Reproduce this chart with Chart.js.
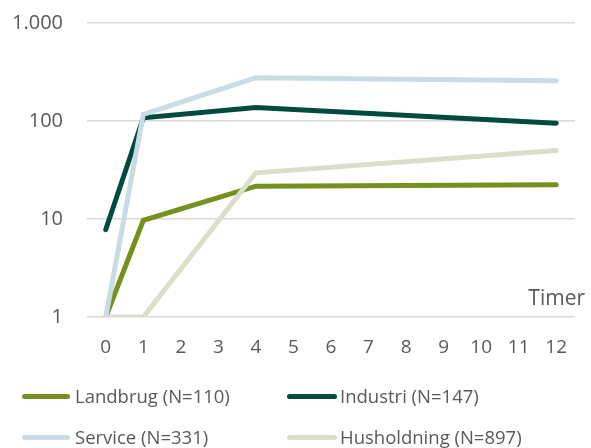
<!DOCTYPE html>
<html>
<head>
<meta charset="utf-8">
<script src="https://cdn.jsdelivr.net/npm/chart.js@4/dist/chart.umd.min.js"></script>
<style>
  html, body { margin: 0; padding: 0; background: #fff; }
  #wrap { position: relative; width: 591px; height: 448px; overflow: hidden; }
  #c { position: absolute; left: 0; top: -13px; }
  .leg { position: absolute; font-family: "Open Sans", sans-serif; font-size: 18.5px; color: #595959; white-space: nowrap; }
  .leg .sw { position: absolute; height: 5px; border-radius: 3px; }
  .leg .tx { position: absolute; line-height: 24px; }
</style>
</head>
<body>
<div id="wrap">
  <canvas id="c" width="591" height="461"></canvas>
</div>
<script>
// Hours on the x axis; values are only known at some of them
const hours = ['0','1','2','3','4','5','6','7','8','9','10','11','12'];
const seriesNames = ['Landbrug (N=110)', 'Industri (N=147)', 'Service (N=331)', 'Husholdning (N=897)'];
const seriesColors = ['#76901f', '#004b3b', '#c7dce5', '#dadecb'];

const landbrug    = [1,   9.7, null, null, 21.6, null, null, null, null, null, null, null, 22.3];
const industri    = [7.8, 108, null, null, 137,  null, null, null, null, null, null, null, 95];
const service     = [1,   117, null, null, 277,  null, null, null, null, null, null, null, 258];
const husholdning = [1,   1,   null, null, 29.6, null, null, null, null, null, null, null, 50];

const yTicks = [1, 10, 100, 1000];
const xAxisTitle = 'Timer';

const allSeries = [landbrug, industri, service, husholdning];
const drawOrder = [4, 3, 2, 1];

function fmtDa(v) {
  return String(v).replace(/\B(?=(\d{3})+(?!\d))/g, '.');
}

const FONT = '"Open Sans", sans-serif';
const TEXT = '#595959';

// "Timer" sits just above the bottom gridline, right of the last hour
const axisTitlePlugin = {
  id: 'axisTitle',
  afterDraw(chart) {
    const ctx = chart.ctx;
    ctx.save();
    ctx.font = '21px ' + FONT;
    ctx.fillStyle = TEXT;
    ctx.textAlign = 'right';
    ctx.textBaseline = 'middle';
    ctx.fillText(xAxisTitle, 585, chart.chartArea.bottom - 18);
    ctx.restore();
  }
};

new Chart(document.getElementById('c'), {
  type: 'line',
  data: {
    labels: hours,
    datasets: allSeries.map((d, i) => ({
      label: seriesNames[i],
      data: d,
      borderColor: seriesColors[i],
      backgroundColor: seriesColors[i],
      borderWidth: 5,
      borderCapStyle: 'round',
      borderJoinStyle: 'miter',
      pointRadius: 0,
      tension: 0,
      spanGaps: true,
      order: drawOrder[i]
    }))
  },
  options: {
    responsive: false,
    animation: false,
    layout: { padding: { top: 0, right: 16, bottom: 0, left: 0 } },
    plugins: { legend: { display: false }, tooltip: { enabled: false } },
    scales: {
      x: {
        type: 'category',
        offset: true,
        grid: { display: false, drawTicks: false },
        border: { display: false },
        ticks: { color: TEXT, font: { family: FONT, size: 19 }, padding: 19, maxRotation: 0, autoSkip: false },
        afterFit(s) { s.height = 131; }
      },
      y: {
        type: 'logarithmic',
        min: 1,
        max: 1000,
        afterBuildTicks(s) { s.ticks = yTicks.map(v => ({ value: v })); },
        grid: { color: '#d9d9d9', lineWidth: 1.5, drawTicks: false },
        border: { display: false },
        ticks: { color: TEXT, font: { family: FONT, size: 20 }, padding: 24, callback: v => fmtDa(v) },
        afterFit(s) { s.width = 87; }
      }
    }
  },
  plugins: [axisTitlePlugin]
});

// Legend in two columns under the plot
const wrap = document.getElementById('wrap');
const legPos = [
  { line: 22, w: 48, text: 75, y: 396 },
  { line: 287, w: 50, text: 340, y: 396 },
  { line: 22, w: 48, text: 75, y: 437 },
  { line: 287, w: 50, text: 340, y: 437 }
];
seriesNames.forEach((name, i) => {
  const p = legPos[i];
  const item = document.createElement('div');
  item.className = 'leg';
  item.style.left = '0px';
  item.style.top = '0px';
  const sw = document.createElement('div');
  sw.className = 'sw';
  sw.style.left = p.line + 'px';
  sw.style.width = p.w + 'px';
  sw.style.top = (p.y - 2.5) + 'px';
  sw.style.background = seriesColors[i];
  const tx = document.createElement('div');
  tx.className = 'tx';
  tx.style.left = p.text + 'px';
  tx.style.top = (p.y - 12) + 'px';
  tx.textContent = name;
  item.appendChild(sw);
  item.appendChild(tx);
  wrap.appendChild(item);
});
</script>
</body>
</html>
